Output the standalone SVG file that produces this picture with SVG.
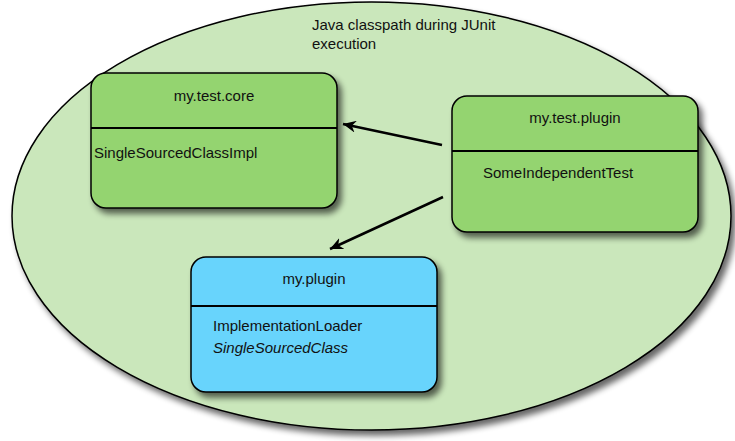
<svg xmlns="http://www.w3.org/2000/svg" width="735" height="441" viewBox="0 0 735 441">
<defs>
<filter id="sh" x="-10%" y="-10%" width="130%" height="130%">
<feGaussianBlur in="SourceAlpha" stdDeviation="3"/>
<feOffset dx="4" dy="5" result="b"/>
<feComponentTransfer><feFuncA type="linear" slope="0.6"/></feComponentTransfer>
<feMerge><feMergeNode/><feMergeNode in="SourceGraphic"/></feMerge>
</filter>
<marker id="ah" markerWidth="14" markerHeight="12" refX="13" refY="6" orient="auto" markerUnits="userSpaceOnUse">
<path d="M0,0 L13,6 L0,12 L4,6 Z" fill="#000"/>
</marker>
</defs>
<style>
text{font-family:"Liberation Sans",Arial,sans-serif;font-size:15px;fill:#111}
.box{stroke:#000;stroke-width:1.5}
.g{fill:#94d46f}
.b{fill:#67d4fc}
.div{stroke:#000;stroke-width:2.2}
.conn{stroke:#000;stroke-width:2.5;fill:none}
</style>
<g id="classpath">
<ellipse cx="371.5" cy="216" rx="359.5" ry="214" fill="#cae7bb" stroke="#000" stroke-width="1.5" filter="url(#sh)"/>
<text x="312" y="30">Java classpath during JUnit</text>
<text x="312" y="49">execution</text>
</g>
<g id="my.test.core">
<rect class="box g" x="91" y="73" width="246" height="135" rx="15" filter="url(#sh)"/>
<line class="div" x1="91" y1="128" x2="337" y2="128"/>
<text x="214" y="101" text-anchor="middle">my.test.core</text>
<text x="94" y="158">SingleSourcedClassImpl</text>
</g>
<g id="my.test.plugin">
<rect class="box g" x="452" y="96" width="246" height="136" rx="15" filter="url(#sh)"/>
<line class="div" x1="452" y1="151" x2="698" y2="151"/>
<text x="575" y="123" text-anchor="middle">my.test.plugin</text>
<text x="483" y="178">SomeIndependentTest</text>
</g>
<g id="my.plugin">
<rect class="box b" x="191" y="257" width="246" height="135" rx="15" filter="url(#sh)"/>
<line class="div" x1="191" y1="306" x2="437" y2="306"/>
<text x="314" y="284" text-anchor="middle">my.plugin</text>
<text x="213" y="331">ImplementationLoader</text>
<text x="213" y="353" font-style="italic">SingleSourcedClass</text>
</g>
<g id="connectors">
<line class="conn" x1="442" y1="145" x2="343" y2="124" marker-end="url(#ah)"/>
<line class="conn" x1="443" y1="197" x2="330" y2="249" marker-end="url(#ah)"/>
</g>
</svg>
